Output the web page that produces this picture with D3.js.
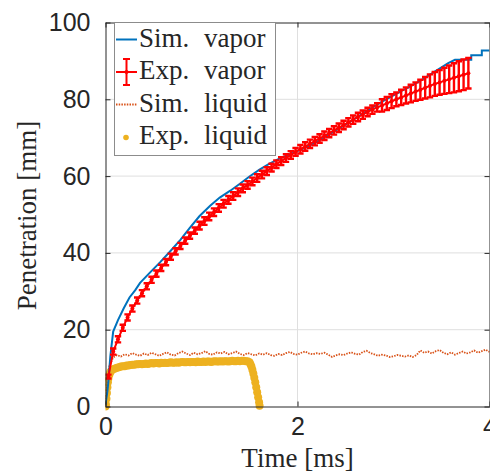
<!DOCTYPE html>
<html>
<head>
<meta charset="utf-8">
<script src="https://cdn.jsdelivr.net/npm/d3@7"></script>
<style>
  body { margin: 0; background: #fff; }
  svg { display: block; }
  .axis path, .axis line { stroke: #262626; stroke-width: 1; }
  .axis text { fill: #262626; font-family: "Liberation Sans", Arial, sans-serif; font-size: 25px; }
  .grid line { stroke: #dfdfdf; stroke-width: 1; }
  .label, .legend text { font-family: "Liberation Serif", "DejaVu Serif", serif; fill: #262626; }
</style>
</head>
<body>
<div id="chart"></div>
<script>
// Penetration vs time: sim/exp vapor + liquid
const xTicks = [0, 2, 4];
const yTicks = [0, 20, 40, 60, 80, 100];

// Sim. vapor  [time ms, penetration mm]
const simVapor = [
  [0.00, 0.5], [0.02, 4], [0.03, 6.5], [0.05, 13], [0.08, 19.5], [0.13, 22.5], [0.19, 25.6],
  [0.25, 28.4], [0.31, 30.3], [0.36, 32.2], [0.46, 34.8], [0.57, 37.6], [0.67, 40.3], [0.78, 43.4],
  [0.88, 46.6], [0.98, 49.6], [1.09, 52.3], [1.19, 54.4], [1.30, 56.2], [1.40, 58.0], [1.50, 59.9],
  [1.60, 61.6], [1.70, 63.1], [1.80, 64.4], [1.90, 65.5], [2.00, 66.5], [2.10, 67.6], [2.20, 68.9],
  [2.34, 71.0], [2.45, 72.7], [2.55, 74.2], [2.65, 75.8], [2.75, 77.4], [2.89, 79.5], [3.00, 81.0],
  [3.07, 82.0], [3.20, 83.7], [3.29, 85.0], [3.43, 87.2], [3.57, 89.4], [3.64, 90.3], [3.81, 90.3],
  [3.81, 91.5], [3.92, 91.5], [3.92, 92.7], [4.00, 92.7]
];

// Exp. vapor: samples every 0.05 ms starting at 0.03 ms
const expVaporT0 = 0.03, expVaporDt = 0.05;
const expVapor = [
  7.8,
  14.3, 17.5, 20.5, 23.2, 25.5, 27.6, 29.5, 31.3, 33.0, 34.6, 36.1, 37.6, 39.0, 40.4, 41.8, 43.2,
  44.5, 45.8, 47.1, 48.3, 49.5, 50.6, 51.7, 52.8, 53.8, 54.8, 55.8, 56.8, 57.7, 58.6, 59.5, 60.4,
  61.3, 62.2, 63.1, 63.9, 64.7, 65.5, 66.3, 67.0, 67.7, 68.4, 69.1, 69.8, 70.5, 71.2, 71.9, 72.6,
  73.3, 74.0, 74.7, 75.4, 76.0, 76.7, 77.3, 77.9, 78.4, 78.9, 79.5, 80.0, 80.5, 81.0, 81.5, 82.0,
  82.5, 83.0, 83.5, 84.0, 84.4, 84.8, 85.2, 85.6, 86.0, 86.4, 86.8
];
const expVaporErr = [
  0.5,
  0.8, 0.8, 0.8, 0.8, 0.8, 0.8, 0.8, 0.8, 0.8, 0.8, 0.8, 0.8, 0.8, 0.8, 0.8, 0.8, 0.8, 0.8,
  1.0, 1.0, 1.0, 1.0, 1.0, 1.0, 1.0, 1.0, 1.0, 1.0, 1.0, 1.0, 1.0, 1.0, 1.0, 1.0, 1.0, 1.0, 1.0, 1.0, 1.0,
  1.1, 1.1, 1.1, 1.1, 1.1, 1.1, 1.1, 1.1, 1.1, 1.1, 1.1, 1.1, 1.1, 1.1, 1.1, 1.1, 1.1,
  1.6, 1.7, 1.8, 1.8, 2.0, 2.1, 2.3, 2.4, 2.6, 2.8, 3.0, 3.1, 3.2, 3.4, 3.6, 3.8, 3.9, 4.0, 4.0
];

// Sim. liquid: samples every 0.04 ms from 0
const simLiquidDt = 0.04;
const simLiquid = [
  0.5, 10.5, 12.8, 13.4, 13.0, 13.6, 13.3, 13.9, 13.5, 13.2, 13.8, 13.4, 14.0, 13.6, 13.2, 13.7,
  14.1, 13.5, 13.3, 13.9, 14.3, 13.8, 13.4, 14.0, 13.6, 13.9, 14.4, 13.7, 13.5, 14.1, 13.8, 14.2,
  13.6, 13.9, 14.3, 13.7, 13.4, 13.9, 13.6, 13.3, 13.8, 13.5, 13.9, 13.4, 13.2, 13.7, 13.4, 13.9,
  14.2, 13.7, 13.5, 14.0, 14.3, 13.8, 13.6, 13.9, 13.7, 14.0, 13.5, 12.9, 13.3, 13.6, 13.4, 13.8,
  14.1, 13.7, 13.5, 14.2, 14.5, 13.9, 13.6, 13.2, 13.5, 13.3, 12.9, 13.1, 13.4, 13.2, 13.0, 13.3,
  12.9, 13.4, 14.6, 14.0, 14.3, 13.8, 14.4, 14.7, 14.0, 13.6, 14.1, 13.5, 13.9, 14.3, 13.8, 14.1,
  14.6, 14.0, 14.4, 14.8, 14.2
];

// Exp. liquid: rise, plateau (every 0.02 ms from 0.10), fall
const liqRiseT = [0, 0.005, 0.01, 0.015, 0.02, 0.025, 0.03, 0.04, 0.05, 0.06, 0.08];
const liqRise = [0, 0.5, 2.0, 3.5, 5.0, 6.3, 7.3, 8.3, 8.9, 9.3, 9.7];
const liqPlateauT0 = 0.10, liqPlateauDt = 0.02;
const liqPlateau = [
  9.9, 10.1, 10.2, 10.4, 10.5, 10.5, 10.7, 10.7, 10.8, 10.9, 10.9, 11.0, 11.0, 11.1, 11.0, 11.1,
  11.2, 11.1, 11.2, 11.3, 11.2, 11.3, 11.3, 11.2, 11.4, 11.3, 11.4, 11.3, 11.4, 11.5, 11.4, 11.4,
  11.5, 11.4, 11.5, 11.6, 11.5, 11.5, 11.6, 11.5, 11.6, 11.6, 11.5, 11.7, 11.6, 11.6, 11.7, 11.6,
  11.7, 11.7, 11.6, 11.7, 11.8, 11.7, 11.7, 11.8, 11.7, 11.8, 11.8, 11.7, 11.8, 11.9, 11.8, 11.8,
  11.9, 11.8, 11.9, 11.9, 11.8, 11.8
];
const liqFallT = [1.50, 1.51, 1.52, 1.53, 1.54, 1.55, 1.56, 1.57, 1.58, 1.59, 1.60, 1.605];
const liqFall = [11.5, 11.0, 10.4, 9.6, 8.6, 7.5, 6.3, 5.0, 3.7, 2.4, 1.1, 0.2];

const legendItems = [
  { w1: "Sim.", w2: "vapor", kind: "line" },
  { w1: "Exp.", w2: "vapor", kind: "errbar" },
  { w1: "Sim.", w2: "liquid", kind: "dotted" },
  { w1: "Exp.", w2: "liquid", kind: "marker" }
];

const C = { blue: "#0072BD", red: "#FF0000", orange: "#D95319", yellow: "#EDB120" };

function makeSvg(sel, w = 490, h = 474, m = { top: 22.5, right: 0.5, bottom: 67.5, left: 105.5 }) {
  const svg = d3.select("#" + sel).append("svg").attr("width", w).attr("height", h);
  return { svg, w, h, m, innerW: w - m.left - m.right, innerH: h - m.top - m.bottom };
}

function drawChart() {
  const { svg, innerW, innerH, m } = makeSvg("chart");
  const g = svg.append("g").attr("transform", `translate(${m.left},${m.top})`);

  const x = d3.scaleLinear().domain([0, 4]).range([0, innerW]);
  const y = d3.scaleLinear().domain([0, 100]).range([innerH, 0]);

  // grid
  const grid = g.append("g").attr("class", "grid");
  grid.selectAll("line.gx").data(xTicks.filter(d => d > 0 && d < 4)).join("line")
    .attr("x1", d => x(d)).attr("x2", d => x(d)).attr("y1", 0).attr("y2", innerH);
  grid.selectAll("line.gy").data(yTicks.filter(d => d > 0 && d < 100)).join("line")
    .attr("y1", d => y(d)).attr("y2", d => y(d)).attr("x1", 0).attr("x2", innerW);

  svg.append("clipPath").attr("id", "clip").append("rect")
    .attr("width", innerW).attr("height", innerH + 8).attr("y", -2);
  const plot = g.append("g").attr("clip-path", "url(#clip)");

  // Exp. liquid markers
  const liq = [
    ...liqRiseT.map((t, i) => [t, liqRise[i]]),
    ...liqPlateau.map((v, i) => [liqPlateauT0 + i * liqPlateauDt, v]),
    ...liqFallT.map((t, i) => [t, liqFall[i]])
  ];
  plot.append("g").selectAll("circle").data(liq).join("circle")
    .attr("cx", d => x(d[0])).attr("cy", d => y(d[1])).attr("r", 4)
    .attr("fill", C.yellow);

  // Sim. liquid dotted
  const line = d3.line().x(d => x(d[0])).y(d => y(d[1]));
  plot.append("path")
    .datum(simLiquid.map((v, i) => [i * simLiquidDt, v]))
    .attr("d", line).attr("fill", "none")
    .attr("stroke", C.orange).attr("stroke-width", 1.8).attr("stroke-dasharray", "1.5 1.2");

  // Sim. vapor
  plot.append("path").datum(simVapor).attr("d", line)
    .attr("fill", "none").attr("stroke", C.blue).attr("stroke-width", 2);

  // Exp. vapor with error bars
  const ev = expVapor.map((v, i) => ({ t: expVaporT0 + i * expVaporDt, v, e: expVaporErr[i] }));
  plot.append("path").datum(ev.map(d => [d.t, d.v])).attr("d", line)
    .attr("fill", "none").attr("stroke", C.red).attr("stroke-width", 2);
  plot.append("g").selectAll("path").data(ev).join("path")
    .attr("d", d => {
      const X = x(d.t), y0 = y(d.v - d.e), y1 = y(d.v + d.e), c = 3.2;
      return `M${X},${y0}V${y1}M${X - c},${y0}H${X + c}M${X - c},${y1}H${X + c}`;
    })
    .attr("fill", "none").attr("stroke", C.red).attr("stroke-width", 2.4);
  plot.append("g").selectAll("circle").data(ev).join("circle")
    .attr("cx", d => x(d.t)).attr("cy", d => y(d.v)).attr("r", 2).attr("fill", C.red);

  // axes (box, ticks inward)
  const fmt = d3.format("d");
  g.append("g").attr("class", "axis").attr("transform", `translate(0,${innerH})`)
    .call(d3.axisBottom(x).tickValues(xTicks).tickFormat(fmt).tickSizeInner(-5).tickSizeOuter(0).tickPadding(11));
  g.append("g").attr("class", "axis")
    .call(d3.axisTop(x).tickValues(xTicks).tickSizeInner(-5).tickSizeOuter(0).tickFormat(""));
  g.append("g").attr("class", "axis")
    .call(d3.axisLeft(y).tickValues(yTicks).tickFormat(fmt).tickSizeInner(-5).tickSizeOuter(0).tickPadding(15));
  g.append("g").attr("class", "axis").attr("transform", `translate(${innerW},0)`)
    .call(d3.axisRight(y).tickValues(yTicks).tickSizeInner(-5).tickSizeOuter(0).tickFormat(""));

  // axis labels
  svg.append("text").attr("class", "label")
    .attr("x", m.left + x(2)).attr("y", 467).attr("text-anchor", "middle")
    .style("font-size", "27px").text("Time [ms]");
  svg.append("text").attr("class", "label")
    .attr("transform", "translate(36,215.5) rotate(-90)").attr("text-anchor", "middle")
    .style("font-size", "27px").text("Penetration [mm]");

  // legend
  const lg = svg.append("g").attr("class", "legend");
  lg.append("rect").attr("x", 114.5).attr("y", 22.5).attr("width", 161).attr("height", 133)
    .attr("fill", "#fff").attr("stroke", "#8c8c8c").attr("stroke-width", 1);
  legendItems.forEach((it, i) => {
    const base = 46.5 + i * 32.5, my = base - 7;
    const row = lg.append("g");
    if (it.kind === "line") {
      row.append("line").attr("x1", 116).attr("x2", 137).attr("y1", my).attr("y2", my)
        .attr("stroke", C.blue).attr("stroke-width", 2);
    } else if (it.kind === "errbar") {
      row.append("line").attr("x1", 116).attr("x2", 137).attr("y1", my).attr("y2", my)
        .attr("stroke", C.red).attr("stroke-width", 2);
      row.append("path").attr("d", `M126.5,${my - 13}V${my + 13}M123,${my - 13}H130M123,${my + 13}H130`)
        .attr("fill", "none").attr("stroke", C.red).attr("stroke-width", 2);
      row.append("circle").attr("cx", 126.5).attr("cy", my).attr("r", 2).attr("fill", C.red);
    } else if (it.kind === "dotted") {
      row.append("line").attr("x1", 116).attr("x2", 137).attr("y1", my).attr("y2", my)
        .attr("stroke", C.orange).attr("stroke-width", 1.8).attr("stroke-dasharray", "1.5 1.2");
    } else {
      row.append("circle").attr("cx", 126).attr("cy", my + 0.5).attr("r", 2.8).attr("fill", C.yellow);
    }
    const t = row.append("text").attr("y", base).style("font-size", "27px");
    t.append("tspan").attr("x", 139).text(it.w1);
    t.append("tspan").attr("x", 204).text(it.w2);
  });
}

drawChart();
</script>
</body>
</html>
